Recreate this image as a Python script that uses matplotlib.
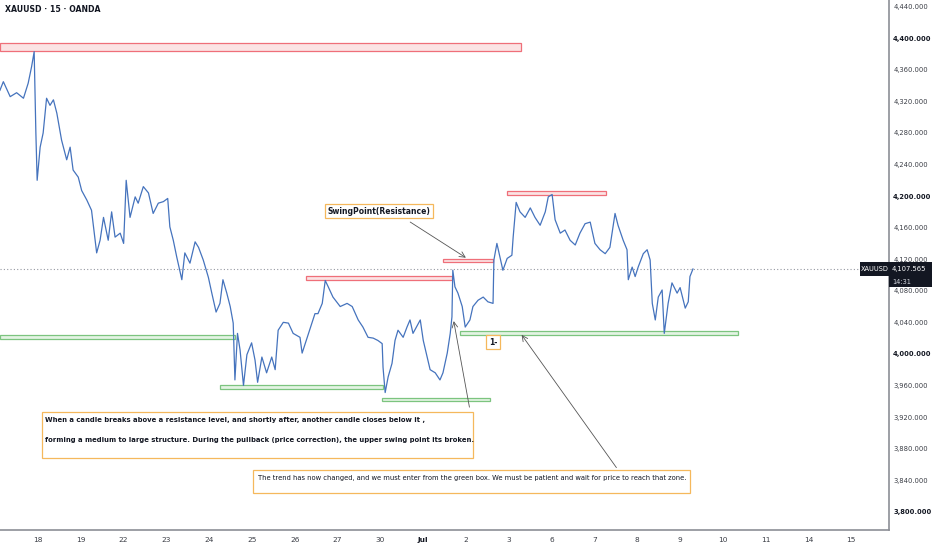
import matplotlib
matplotlib.use("Agg")
import matplotlib.pyplot as plt
from matplotlib.patches import Rectangle
from matplotlib.ticker import FixedLocator, FuncFormatter

# time in trading days (0 = the "18" session), price in USD
t = [-0.89, -0.81, -0.65, -0.50, -0.34, -0.23, -0.15, -0.09, -0.05, -0.02, 0.05, 0.12, 0.20, 0.28,
     0.36, 0.44, 0.55, 0.67, 0.75, 0.82, 0.94, 1.02, 1.14, 1.25, 1.37, 1.45, 1.53, 1.64, 1.72, 1.80,
     1.92, 2.00, 2.06, 2.15, 2.27, 2.34, 2.46, 2.58, 2.69, 2.81, 2.93, 3.03, 3.08, 3.16, 3.24, 3.36,
     3.43, 3.55, 3.67, 3.75, 3.86, 3.98, 4.06, 4.16, 4.25, 4.32, 4.41, 4.49, 4.56, 4.60, 4.66, 4.72,
     4.80, 4.88, 4.99, 5.07, 5.13, 5.23, 5.34, 5.46, 5.54, 5.61, 5.73, 5.85, 5.96, 6.12, 6.17, 6.29,
     6.40, 6.47, 6.54, 6.64, 6.71, 6.78, 6.89, 7.06, 7.22, 7.34, 7.48, 7.59, 7.71, 7.83, 7.94, 8.04,
     8.06, 8.11, 8.18, 8.27, 8.34, 8.41, 8.53, 8.62, 8.69, 8.76, 8.93, 9.00, 9.09, 9.16, 9.28, 9.39,
     9.46, 9.56, 9.63, 9.67, 9.69, 9.74, 9.81, 9.91, 9.98, 10.09, 10.16, 10.28, 10.40, 10.51, 10.63,
     10.65, 10.72, 10.79, 10.86, 10.96, 11.07, 11.10, 11.17, 11.26, 11.38, 11.50, 11.61, 11.73, 11.85,
     11.92, 12.01, 12.08, 12.20, 12.31, 12.43, 12.55, 12.66, 12.78, 12.90, 13.01, 13.13, 13.25, 13.36,
     13.48, 13.55, 13.67, 13.76, 13.79, 13.88, 13.95, 14.02, 14.14, 14.23, 14.30, 14.35, 14.42, 14.49,
     14.58, 14.63, 14.72, 14.81, 14.93, 15.00, 15.12, 15.19, 15.23, 15.30]
price = [4334, 4345, 4326, 4331, 4324, 4343, 4364, 4383, 4280, 4220, 4262, 4280, 4324, 4315,
         4322, 4305, 4271, 4246, 4262, 4233, 4224, 4207, 4195, 4182, 4128, 4144, 4173, 4144, 4180, 4148,
         4153, 4140, 4220, 4173, 4199, 4191, 4212, 4204, 4178, 4191, 4193, 4197, 4161, 4144, 4123, 4094,
         4128, 4115, 4142, 4135, 4119, 4097, 4077, 4053, 4064, 4094, 4077, 4060, 4039, 3967, 4026, 4005,
         3960, 3999, 4014, 3992, 3964, 3996, 3976, 3996, 3980, 4030, 4040, 4039, 4026, 4021, 4001, 4021,
         4039, 4051, 4051, 4064, 4093, 4085, 4072, 4060, 4064, 4060, 4043, 4034, 4021, 4020, 4017, 4013,
         3983, 3951, 3971, 3988, 4017, 4030, 4021, 4034, 4043, 4026, 4043, 4017, 3996, 3980, 3976, 3967,
         3976, 4001, 4026, 4047, 4106, 4085, 4077, 4060, 4034, 4043, 4060, 4068, 4072, 4066, 4064,
         4119, 4140, 4123, 4106, 4121, 4125, 4148, 4192, 4180, 4173, 4185, 4173, 4163, 4180,
         4199, 4202, 4170, 4153, 4157, 4144, 4138, 4153, 4165, 4167, 4140, 4132, 4127, 4135,
         4178, 4163, 4144, 4132, 4094, 4110, 4098, 4110, 4127, 4132, 4119, 4064, 4043, 4072,
         4081, 4026, 4064, 4090, 4077, 4084, 4058, 4066, 4098, 4107.565]

last_price = 4107.565
date_labels = ["18", "19", "22", "23", "24", "25", "26", "27", "30", "Jul",
               "2", "3", "6", "7", "8", "9", "10", "11", "14", "15"]
price_ticks = [3800, 3840, 3880, 3920, 3960, 4000, 4040, 4080, 4120,
               4160, 4200, 4240, 4280, 4320, 4360, 4400, 4440]

# zones: (t_start, t_end, price_low, price_high)
red_zones = [(-0.89, 11.29, 4384, 4394.5), (6.26, 9.67, 4094, 4099),
             (9.46, 10.63, 4116, 4120), (10.96, 13.27, 4201, 4206)]
green_zones = [(-0.89, 4.60, 4019, 4024), (4.25, 8.06, 3955, 3960),
               (8.04, 10.56, 3940, 3944), (9.86, 16.36, 4024, 4029)]

fig = plt.figure(figsize=(9.32, 5.5), dpi=100)
ax = fig.add_axes([0, 20 / 550, 889 / 932, 530 / 550])
ax.set_xlim(-0.888, 19.88)
ax.set_ylim(3776.8, 4448.5)

for x0, x1, lo, hi in red_zones:
    ax.add_patch(Rectangle((x0, lo), x1 - x0, hi - lo, facecolor="#fbe3e4",
                           edgecolor="#ef6f79", lw=0.9, zorder=1))
for x0, x1, lo, hi in green_zones:
    ax.add_patch(Rectangle((x0, lo), x1 - x0, hi - lo, facecolor="#e3f4e3",
                           edgecolor="#7cc47f", lw=0.9, zorder=1))

ax.axhline(last_price, color="#9598a1", lw=0.8, ls=(0, (1, 2)), zorder=1)
ax.plot(t, price, color="#4573bd", lw=0.9, zorder=3)

# spines / axes
for s in ("top", "left"):
    ax.spines[s].set_visible(False)
ax.spines["right"].set_color("#8c8f96")
ax.spines["bottom"].set_color("#8c8f96")
ax.spines["right"].set_linewidth(1.2)
ax.spines["bottom"].set_linewidth(1.2)

ax.yaxis.tick_right()
ax.yaxis.set_major_locator(FixedLocator(price_ticks))
ax.yaxis.set_major_formatter(FuncFormatter(lambda v, p: f"{v:,.3f}"))
ax.tick_params(axis="y", length=0, pad=3, labelsize=4.9, labelcolor="#3a3d45")
ax.xaxis.set_major_locator(FixedLocator(range(len(date_labels))))
ax.set_xticklabels(date_labels)
ax.tick_params(axis="x", length=0, pad=5, labelsize=5.3, labelcolor="#3a3d45")
for lab, v in zip(ax.get_yticklabels(), price_ticks):
    if v % 200 == 0:
        lab.set_fontweight("bold")
        lab.set_color("#131722")
for lab in ax.get_xticklabels():
    if lab.get_text() == "Jul":
        lab.set_fontweight("bold")
        lab.set_color("#131722")

# annotations
box_style = dict(boxstyle="square,pad=0.35", facecolor="white", edgecolor="#f5b85c", lw=0.9)
ax.annotate("", xy=(10.05, 4120), xytext=(8.64, 4169),
            arrowprops=dict(arrowstyle="->", color="#555555", lw=0.6))
ax.text(7.97, 4181, "SwingPoint(Resistance)", fontsize=5.5, fontweight="bold",
        ha="center", va="center", color="#131722", bbox=box_style, zorder=5)

ax.add_patch(Rectangle((0.09, 3868), 10.07, 58, facecolor="white",
                       edgecolor="#f5b85c", lw=0.9, zorder=4))
ax.text(0.16, 3916, "When a candle breaks above a resistance level, and shortly after, another candle closes below it ,",
        fontsize=4.95, fontweight="bold", ha="left", va="center", color="#131722", zorder=5)
ax.text(0.16, 3891, "forming a medium to large structure. During the pullback (price correction), the upper swing point its broken.",
        fontsize=4.95, fontweight="bold", ha="left", va="center", color="#131722", zorder=5)
ax.annotate("", xy=(9.70, 4045), xytext=(10.09, 3929),
            arrowprops=dict(arrowstyle="->", color="#555555", lw=0.6), zorder=5)

ax.add_patch(Rectangle((5.02, 3824), 10.21, 29, facecolor="white",
                       edgecolor="#f5b85c", lw=0.9, zorder=4))
ax.text(5.14, 3843, "The trend has now changed, and we must enter from the green box. We must be patient and wait for price to reach that zone.",
        fontsize=4.85, ha="left", va="center", color="#131722", zorder=5)
ax.annotate("", xy=(11.26, 4027), xytext=(13.55, 3853),
            arrowprops=dict(arrowstyle="->", color="#555555", lw=0.6), zorder=5)

ax.text(10.63, 4015, "1-", fontsize=5.5, fontweight="bold", ha="center", va="center",
        color="#131722", bbox=box_style, zorder=5)

# header
fig.text(5 / 932, 1 - 10 / 550, "XAUUSD · 15 · OANDA", fontsize=5.6, fontweight="bold",
         ha="left", va="center", color="#131722")

# last price tag on the price scale
fig.patches.append(Rectangle((860 / 932, 1 - 276 / 550), 29 / 932, 14 / 550,
                             transform=fig.transFigure, facecolor="#131722", edgecolor="none"))
fig.patches.append(Rectangle((889 / 932, 1 - 287 / 550), 43 / 932, 25 / 550,
                             transform=fig.transFigure, facecolor="#131722", edgecolor="none"))
fig.text(874.5 / 932, 1 - 269 / 550, "XAUUSD", fontsize=4.8, color="white",
         ha="center", va="center")
fig.text(892 / 932, 1 - 269 / 550, f"{last_price:,.3f}", fontsize=4.9, color="white",
         ha="left", va="center")
fig.text(892 / 932, 1 - 281.5 / 550, "14:31", fontsize=4.8, color="#d1d4dc",
         ha="left", va="center")

fig.savefig("out.png", dpi=100)
